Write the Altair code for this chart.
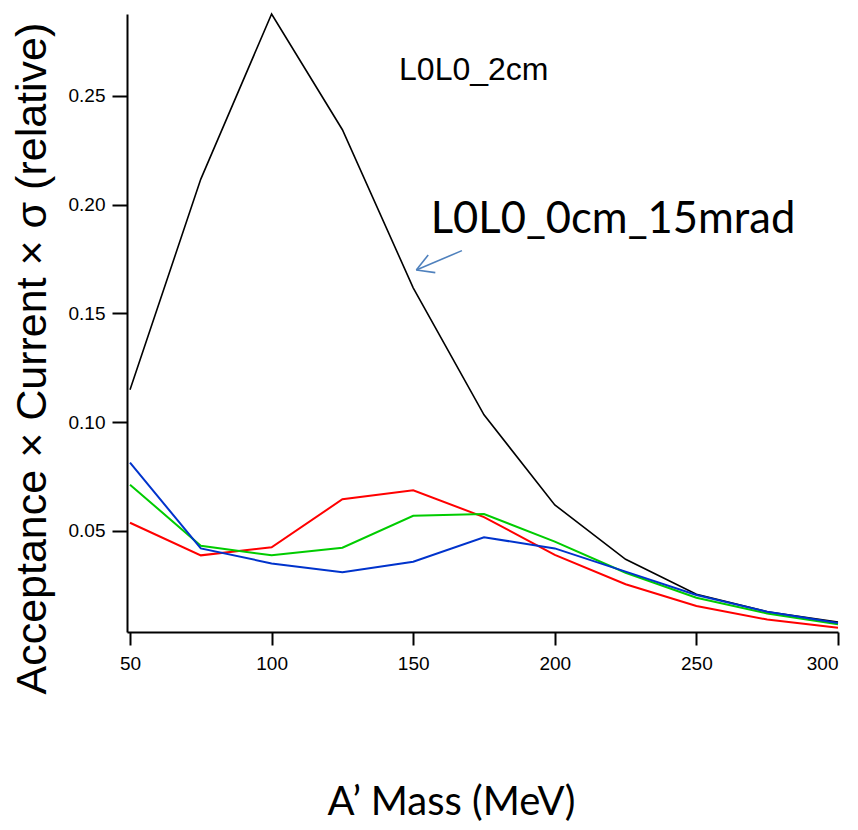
import altair as alt
import pandas as pd

# ---- data ----
mass = [50, 75, 100, 125, 150, 175, 200, 225, 250, 275, 300]
black = [0.1149, 0.2118, 0.2877, 0.2345, 0.1618, 0.1034, 0.0620, 0.0370, 0.0209, 0.0129, 0.0081]
red = [0.0538, 0.0388, 0.0425, 0.0646, 0.0687, 0.0564, 0.0390, 0.0255, 0.0155, 0.0093, 0.0055]
green = [0.0713, 0.0432, 0.0388, 0.0423, 0.0570, 0.0578, 0.0451, 0.0308, 0.0193, 0.0121, 0.0071]
blue = [0.0814, 0.0420, 0.0351, 0.0310, 0.0359, 0.0471, 0.0420, 0.0313, 0.0206, 0.0129, 0.0077]

series_names = ["L0L0_0cm_15mrad", "red", "green", "blue"]
series_values = [black, red, green, blue]
series_colors = ["#000000", "#ff0000", "#00cc00", "#0033cc"]
series_widths = [1.6, 2.0, 2.0, 2.0]

x_ticks = [50, 100, 150, 200, 250, 300]
y_ticks = [0.05, 0.10, 0.15, 0.20, 0.25]

label_text = ["L0L0_2cm", "L0L0_0cm_15mrad"]
label_x = [145.0, 156.2]
label_y = [0.2572, 0.1872]

arrow_x = [167.2, 151.1, 151.1]
arrow_y = [0.1789, 0.1700, 0.1700]
arrow_x2 = [151.1, 155.3, 157.8]
arrow_y2 = [0.1700, 0.1769, 0.1688]

W, H = 711, 618
xs = alt.Scale(domain=[48.94, 300], nice=False, zero=False)
ys = alt.Scale(domain=[0.00356, 0.2877], nice=False, zero=False)

x_axis = alt.Axis(
    values=x_ticks, format="d", grid=False,
    labelFont="Liberation Sans", labelFontSize=19, labelColor="black", labelPadding=9,
    tickSize=13, tickWidth=2, tickColor="black",
    domainWidth=2, domainColor="black",
    title="A\u2019 Mass (MeV)", titleFont="Lato", titleFontSize=40, titleFontWeight="normal",
    titleColor="black", titleX=324, titleY=182, titleAlign="center", titleBaseline="alphabetic",
)
y_axis = alt.Axis(
    values=y_ticks, format=".2f", grid=False,
    labelFont="Liberation Sans", labelFontSize=19, labelColor="black", labelPadding=7,
    tickSize=15, tickWidth=2, tickColor="black",
    domainWidth=2, domainColor="black",
    title="Acceptance \u00d7 Current \u00d7 \u03c3  (relative)", titleFont="Liberation Sans",
    titleFontSize=43, titleFontWeight="normal", titleColor="black",
    titleAngle=270, titleX=-82, titleY=680, titleAlign="left", titleBaseline="alphabetic",
)


def X(field):
    return alt.X(field, scale=xs, axis=x_axis)


def Y(field):
    return alt.Y(field, scale=ys, axis=y_axis)


rows = []
for name, vals in zip(series_names, series_values):
    for m, v in zip(mass, vals):
        rows.append({"series": name, "mass": m, "value": v})
df = pd.DataFrame(rows)

layers = []
for name, col, w in zip(series_names, series_colors, series_widths):
    layers.append(
        alt.Chart(df).transform_filter(alt.datum.series == name)
        .mark_line(color=col, strokeWidth=w, clip=False)
        .encode(x=X("mass:Q"), y=Y("value:Q"))
    )

ann = pd.DataFrame({"text": label_text, "x": label_x, "y": label_y})
text1 = alt.Chart(ann.iloc[[0]]).mark_text(
    align="left", baseline="alphabetic", font="Liberation Sans", fontSize=32, color="black"
).encode(x=X("x:Q"), y=Y("y:Q"), text="text:N")
text2 = alt.Chart(ann.iloc[[1]]).mark_text(
    align="left", baseline="alphabetic", font="Lato", fontSize=43.5, color="black"
).encode(x=X("x:Q"), y=Y("y:Q"), text="text:N")

arr = pd.DataFrame({"x": arrow_x, "y": arrow_y, "x2": arrow_x2, "y2": arrow_y2})
arrow = alt.Chart(arr).mark_rule(color="#4f81bd", strokeWidth=1.6).encode(
    x=X("x:Q"), y=Y("y:Q"), x2="x2:Q", y2="y2:Q",
)

chart = alt.layer(*layers, text1, text2, arrow).properties(
    width=W, height=H,
    autosize=alt.AutoSizeParams(type="none"),
    padding={"left": 119, "top": 6, "right": 12, "bottom": 190},
    background="white",
).configure_view(stroke=None)

chart.save("out.html", embed_options={"renderer": "svg", "actions": False})
